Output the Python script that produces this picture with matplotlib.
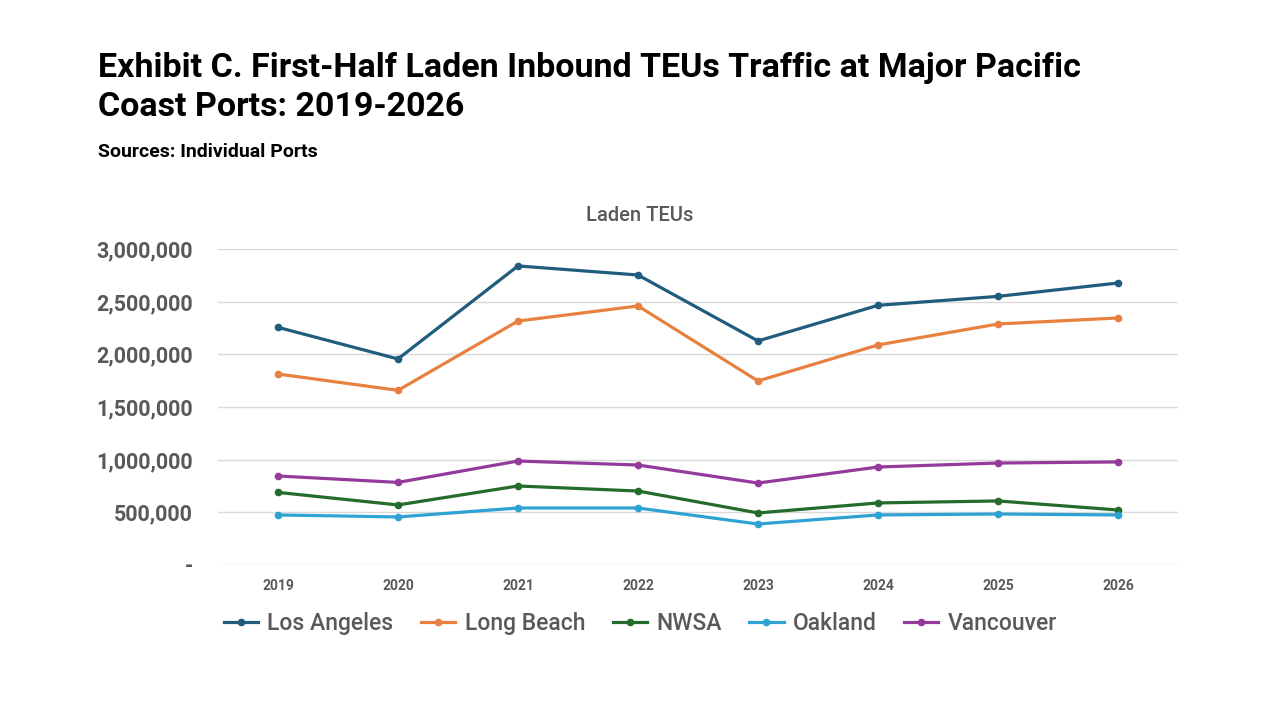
import matplotlib.pyplot as plt
from matplotlib.ticker import FuncFormatter

years = ["2019", "2020", "2021", "2022", "2023", "2024", "2025", "2026"]
los_angeles = [2256000, 1956000, 2839000, 2753000, 2127000, 2465000, 2550000, 2677000]
long_beach = [1813000, 1658000, 2316000, 2459000, 1747000, 2089000, 2288000, 2345000]
nwsa = [689000, 570000, 750000, 702000, 494000, 589000, 608000, 522000]
oakland = [475000, 456000, 541000, 541000, 389000, 475000, 484000, 475000]
vancouver = [845000, 784000, 987000, 949000, 778000, 930000, 968000, 978000]

series = [
    ("Los Angeles", los_angeles, "#1f5c7d"),
    ("Long Beach", long_beach, "#e8803f"),
    ("NWSA", nwsa, "#246b2c"),
    ("Oakland", oakland, "#2fa2d4"),
    ("Vancouver", vancouver, "#943a9c"),
]

plt.rcParams['font.family'] = ['Roboto', 'DejaVu Sans']
grey = "#595959"

fig = plt.figure(figsize=(12.8, 7.2), dpi=100)
ax = fig.add_axes([0.1703, 0.2153, 0.75, 0.4389])

x = range(len(years))
for name, vals, col in series:
    ax.plot(x, vals, color=col, lw=2.3, marker="o", ms=4.5, label=name)

ax.set_xlim(-0.5, len(years) - 0.5)
ax.set_ylim(0, 3000000)
ax.set_yticks(range(0, 3000001, 500000))
ax.yaxis.set_major_formatter(FuncFormatter(lambda v, p: "-" if v == 0 else "{:,.0f}".format(v)))
ax.set_xticks(list(x))
ax.set_xticklabels(years)
ax.grid(axis="y", color="#d9d9d9", lw=1)
ax.set_axisbelow(True)
for s in ax.spines.values():
    s.set_visible(False)
ax.tick_params(length=0)
ax.tick_params(axis="y", labelsize=15.5, labelcolor=grey, pad=18)
ax.tick_params(axis="x", labelsize=10, labelcolor=grey, pad=10)
for lab in ax.get_yticklabels() + ax.get_xticklabels():
    lab.set_fontweight("bold")

fig.text(0.5, 1 - 215 / 720, "Laden TEUs", fontsize=14.5, color=grey, fontweight="medium",
         ha="center", va="center")

leg = ax.legend(loc="upper center", bbox_to_anchor=(0.44, -0.085), ncol=5, frameon=False,
                fontsize=16.5, handlelength=1.5, columnspacing=1.2, handletextpad=0.4)
for t in leg.get_texts():
    t.set_color(grey)
    t.set_fontweight("medium")

fig.text(0.0766, 0.928, "Exhibit C. First-Half Laden Inbound TEUs Traffic at Major Pacific\nCoast Ports: 2019-2026",
         fontsize=24.5, fontweight="bold", va="top", ha="left", linespacing=1.3)
fig.text(0.0766, 0.789, "Sources: Individual Ports", fontsize=14, fontweight="bold", va="center", ha="left")

fig.savefig("out.png", dpi=100)
